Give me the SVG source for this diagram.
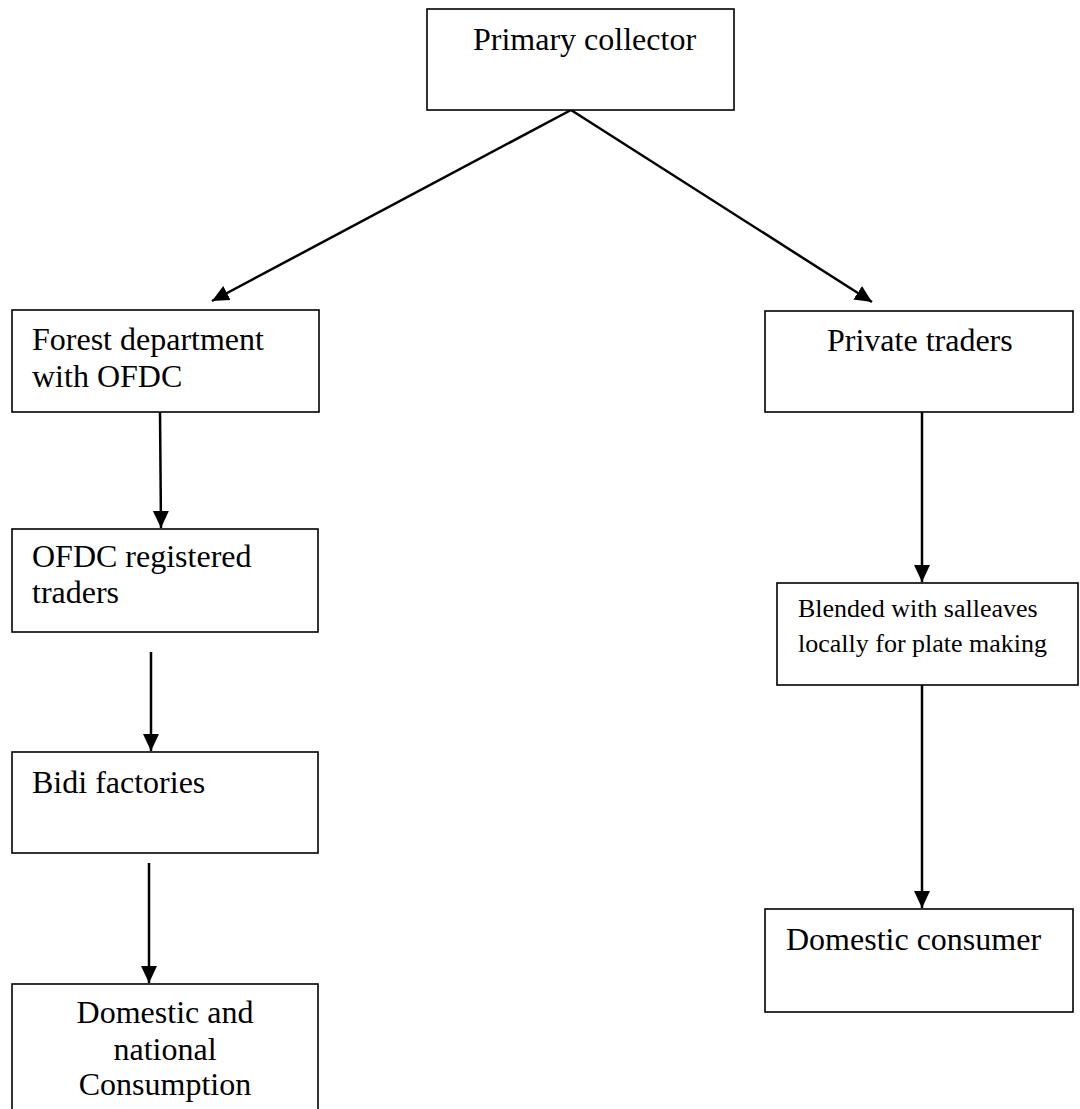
<svg xmlns="http://www.w3.org/2000/svg" width="1080" height="1109" viewBox="0 0 1080 1109">
<defs>
<style>
.box{fill:#fff;stroke:#000;stroke-width:1.6}
.t{font-family:"Liberation Serif","Times New Roman",serif;font-size:32px;fill:#000}
.s{font-size:26px}
.c{stroke:#000;stroke-width:2.5;fill:none;marker-end:url(#ah)}
</style>
<marker id="ah" markerUnits="userSpaceOnUse" markerWidth="20" markerHeight="18" refX="17" refY="8" orient="auto">
<path d="M0,0 L17,8 L0,16 Z" fill="#000"/>
</marker>
</defs>
<rect width="1080" height="1109" fill="#fff"/>
<g id="connectors">
<line class="c" x1="571" y1="110" x2="212" y2="301"/>
<line class="c" x1="571" y1="110" x2="872" y2="302"/>
<line class="c" x1="160" y1="412" x2="161" y2="528"/>
<line class="c" x1="151" y1="652" x2="151" y2="751"/>
<line class="c" x1="149" y1="863" x2="149" y2="983"/>
<line class="c" x1="922" y1="412" x2="922" y2="582"/>
<line class="c" x1="922" y1="685" x2="922" y2="908"/>
</g>
<g id="primary-collector">
<rect class="box" x="427" y="9" width="307" height="101"/>
<text class="t" x="473" y="50">Primary collector</text>
</g>
<g id="forest-department">
<rect class="box" x="12" y="310" width="307" height="102"/>
<text class="t" x="32" y="350">Forest department</text>
<text class="t" x="32" y="387">with OFDC</text>
</g>
<g id="private-traders">
<rect class="box" x="765" y="311" width="308" height="101"/>
<text class="t" x="827" y="351">Private traders</text>
</g>
<g id="ofdc-registered">
<rect class="box" x="12" y="529" width="306" height="103"/>
<text class="t" x="32" y="567">OFDC registered</text>
<text class="t" x="32" y="603">traders</text>
</g>
<g id="blended">
<rect class="box" x="777" y="583" width="301" height="102"/>
<text class="t s" x="798" y="617">Blended with salleaves</text>
<text class="t s" x="798" y="652">locally for plate making</text>
</g>
<g id="bidi-factories">
<rect class="box" x="12" y="752" width="306" height="101"/>
<text class="t" x="32" y="793">Bidi factories</text>
</g>
<g id="domestic-national">
<rect class="box" x="12" y="984" width="306" height="140"/>
<text class="t" x="165" y="1023" text-anchor="middle">Domestic and</text>
<text class="t" x="165" y="1060" text-anchor="middle">national</text>
<text class="t" x="165" y="1095" text-anchor="middle">Consumption</text>
</g>
<g id="domestic-consumer">
<rect class="box" x="765" y="909" width="308" height="103"/>
<text class="t" x="786" y="950">Domestic consumer</text>
</g>
</svg>
